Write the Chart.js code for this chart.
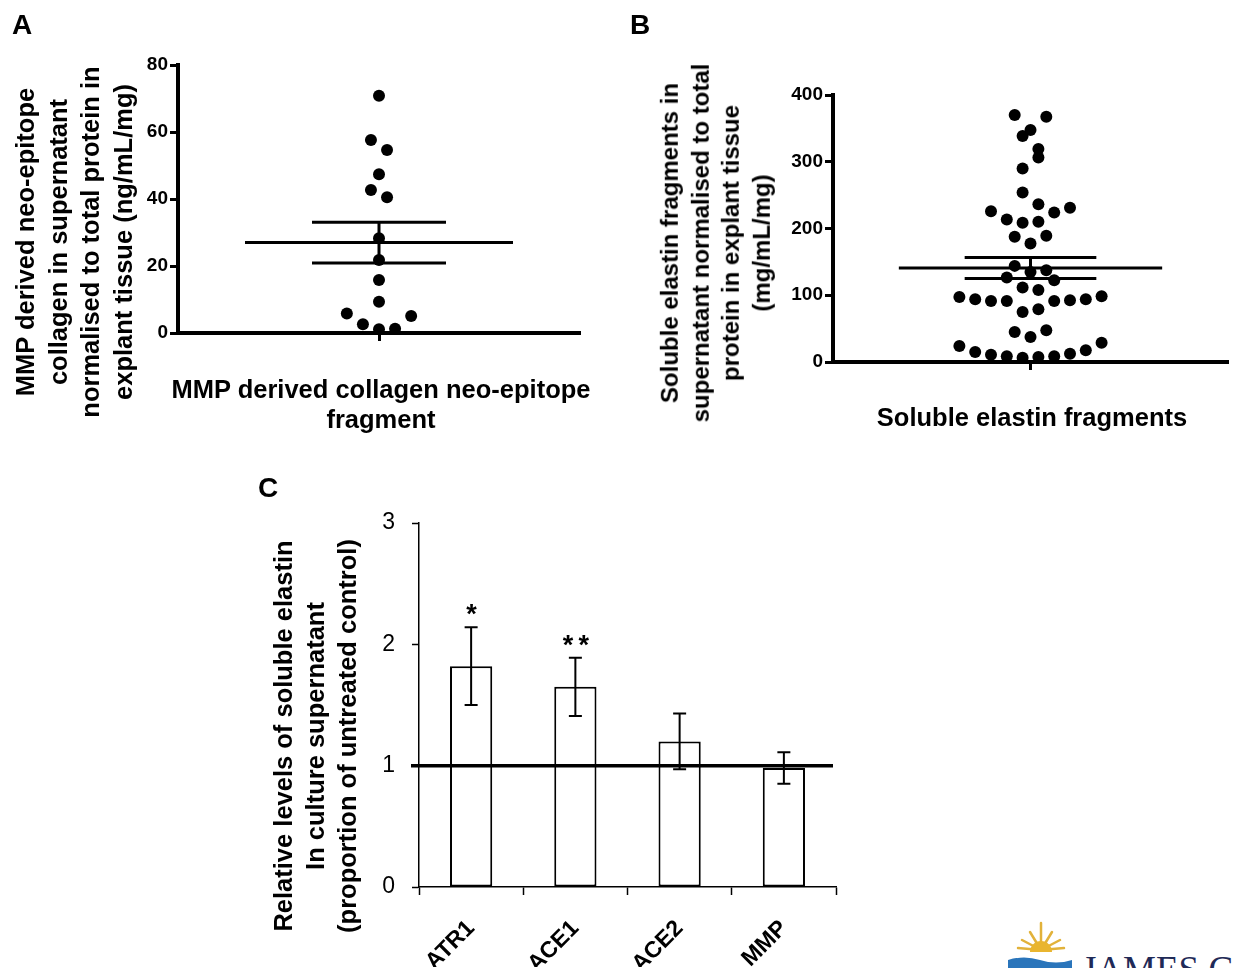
<!DOCTYPE html>
<html>
<head>
<meta charset="utf-8">
<script src="https://cdn.jsdelivr.net/npm/chart.js@4.4.1/dist/chart.umd.min.js"></script>
<style>
  html, body { margin: 0; padding: 0; background: #fff; }
  body { position: relative; width: 1234px; height: 968px; overflow: hidden; font-family: "Liberation Sans", Arial, sans-serif; color: #000; }
  canvas { position: absolute; }
  .lbl { position: absolute; font-weight: bold; white-space: nowrap; }
  .panel { font-size: 28px; line-height: 28px; }
  .vt { transform: translate(-50%, -50%) rotate(-90deg); text-align: center; }
  .ht { transform: translate(-50%, -50%); text-align: center; }
</style>
</head>
<body>

<canvas id="chartA" width="617" height="450" style="left:0;top:0"></canvas>
<canvas id="chartB" width="617" height="450" style="left:617px;top:0"></canvas>
<canvas id="chartC" width="620" height="508" style="left:250px;top:460px"></canvas>

<div class="lbl panel" style="left:12px;top:11px">A</div>
<div class="lbl panel" style="left:630px;top:11px">B</div>
<div class="lbl panel" style="left:258px;top:474px">C</div>

<div class="lbl vt" style="left:74px;top:242px;font-size:25.5px;line-height:32.7px">MMP derived neo-epitope<br>collagen in supernatant<br>normalised to total protein in<br>explant tissue (ng/mL/mg)</div>
<div class="lbl ht" style="left:381px;top:404px;font-size:25.5px;line-height:30px">MMP derived collagen neo-epitope<br>fragment</div>

<div class="lbl vt" style="left:716px;top:243px;font-size:24px;line-height:30.6px">Soluble elastin fragments  in<br>supernatant  normalised to total<br>protein in explant tissue<br>(mg/mL/mg)</div>
<div class="lbl ht" style="left:1032px;top:417px;font-size:25.5px;line-height:30px">Soluble elastin fragments</div>

<div class="lbl vt" style="left:315px;top:736px;font-size:25.5px;line-height:32px">Relative levels of soluble elastin<br>In culture supernatant<br>(proportion of untreated control)</div>

<svg style="position:absolute;left:1000px;top:910px" width="234" height="58">
  <g stroke="#e2b23a" stroke-width="2.5" stroke-linecap="round">
    <line x1="41" y1="40" x2="41" y2="13"/>
    <line x1="41" y1="40" x2="30" y2="22"/>
    <line x1="41" y1="40" x2="52" y2="22"/>
    <line x1="41" y1="40" x2="22" y2="30"/>
    <line x1="41" y1="40" x2="60" y2="30"/>
    <line x1="41" y1="40" x2="18" y2="38"/>
    <line x1="41" y1="40" x2="64" y2="38"/>
  </g>
  <path d="M30 42 A11 11 0 0 1 52 42 Z" fill="#e9b52f"/>
  <path d="M8 50 Q24 45 40 50 T72 50 L72 58 L8 58 Z" fill="#2a75bb"/>
  <text x="82" y="72" font-family="Liberation Serif, Times New Roman, serif" font-size="37" fill="#1f2a57">JAMES COOK</text>
</svg>

<script>
// Panel A: MMP derived collagen neo-epitope (ng/mL/mg), one value per explant
const collagenValues = [70.8, 57.6, 54.6, 47.4, 42.7, 40.5, 28.3, 21.8, 15.8, 9.3, 1.1, 2.6, 1.3, 5.8, 5.1];
const collagenTicks = [0, 20, 40, 60, 80];

// Panel B: soluble elastin fragments (mg/mL/mg), one value per explant
const elastinValues = [
  6.5, 7.5, 8.5, 8.5, 11, 12.5, 15, 17.5, 24, 29,
  37.5, 45, 47.5,
  75, 79, 91.5, 91.5, 91.5, 92.5, 94, 94, 97.5, 98.5,
  111.5, 108, 126.5, 122.5,
  135, 144, 137.5,
  177.5, 187.5, 189,
  208.5, 210, 213.5, 224, 226, 231,
  254, 236.5,
  290, 306.5,
  338.5, 319,
  347.5, 370, 367.5
];
const elastinTicks = [0, 100, 200, 300, 400];

// Panel C: relative soluble elastin (proportion of untreated control)
const genes = ['ATR1', 'ACE1', 'ACE2', 'MMP'];
const relLevels = [1.82, 1.65, 1.2, 0.98];
const relErrors = [0.32, 0.24, 0.23, 0.13];
const relStars = ['*', '**', '', ''];
const controlLevel = 1;

const FONT = '"Liberation Sans", Arial, sans-serif';
Chart.defaults.font.family = FONT;
Chart.defaults.color = '#000';

const rowFrac = 0.062;   // points closer than this (fraction of axis) share a row
const slotWidth = 0.08;  // horizontal spacing of points in a row (x units)

// Prism-like column scatter: rows from sorted values, spread centre-out
function swarm(values, yMin, yMax) {
  const gap = (yMax - yMin) * rowFrac;
  const order = values.map((v, i) => i).sort((a, b) => values[a] - values[b]);
  const rows = [];
  let row = null;
  order.forEach(i => {
    if (!row || values[i] - row.start > gap) {
      row = { start: values[i], idx: [] };
      rows.push(row);
    }
    row.idx.push(i);
  });
  const pts = [];
  rows.forEach(r => {
    r.idx.sort((a, b) => a - b);
    const n = r.idx.length;
    r.idx.forEach((i, k) => {
      let slot;
      if (n % 2) slot = k === 0 ? 0 : Math.ceil(k / 2) * (k % 2 ? -1 : 1);
      else slot = (Math.floor(k / 2) + 0.5) * (k % 2 ? 1 : -1);
      pts.push({ x: slot * slotWidth, y: values[i] });
    });
  });
  return pts;
}

function meanSem(values) {
  const n = values.length;
  const mean = values.reduce((a, b) => a + b, 0) / n;
  const sd = Math.sqrt(values.reduce((a, b) => a + (b - mean) * (b - mean), 0) / (n - 1));
  return { mean: mean, sem: sd / Math.sqrt(n) };
}

// mean line with SEM bars, drawn through the chart's own scales
function summaryPlugin(values) {
  const s = meanSem(values);
  return {
    id: 'summary',
    afterDatasetsDraw(chart) {
      const ctx = chart.ctx, x = chart.scales.x, y = chart.scales.y;
      const ym = y.getPixelForValue(s.mean);
      const yt = y.getPixelForValue(s.mean + s.sem);
      const yb = y.getPixelForValue(s.mean - s.sem);
      ctx.save();
      ctx.strokeStyle = '#000';
      ctx.lineWidth = 3;
      ctx.beginPath();
      ctx.moveTo(x.getPixelForValue(-2 / 3), ym);
      ctx.lineTo(x.getPixelForValue(2 / 3), ym);
      ctx.moveTo(x.getPixelForValue(-1 / 3), yt);
      ctx.lineTo(x.getPixelForValue(1 / 3), yt);
      ctx.moveTo(x.getPixelForValue(-1 / 3), yb);
      ctx.lineTo(x.getPixelForValue(1 / 3), yb);
      ctx.moveTo(x.getPixelForValue(0), yt);
      ctx.lineTo(x.getPixelForValue(0), yb);
      ctx.stroke();
      ctx.restore();
    }
  };
}

function scatterConfig(values, ticks, pad) {
  const yMin = ticks[0], yMax = ticks[ticks.length - 1];
  return {
    type: 'scatter',
    data: {
      datasets: [{
        data: swarm(values, yMin, yMax),
        pointRadius: 6,
        pointHoverRadius: 6,
        backgroundColor: '#000',
        borderWidth: 0,
        clip: false
      }]
    },
    options: {
      responsive: false,
      animation: false,
      devicePixelRatio: 1,
      events: [],
      layout: { padding: pad },
      plugins: { legend: { display: false }, tooltip: { enabled: false } },
      scales: {
        x: {
          type: 'linear', min: -1, max: 1,
          afterBuildTicks: s => { s.ticks = [{ value: 0 }]; },
          afterFit: s => { s.height = 20; },
          ticks: { callback: () => '' },
          grid: { drawOnChartArea: false, tickLength: 8, tickWidth: 3, color: '#000' },
          border: { width: 4, color: '#000' }
        },
        y: {
          min: yMin, max: yMax,
          afterBuildTicks: s => { s.ticks = ticks.map(v => ({ value: v })); },
          afterFit: s => { s.width = 60; },
          ticks: { padding: 2, color: '#000', font: { size: 19, weight: 'bold' } },
          grid: { drawOnChartArea: false, tickLength: 8, tickWidth: 3, color: '#000' },
          border: { width: 4, color: '#000' }
        }
      }
    },
    plugins: [summaryPlugin(values)]
  };
}

new Chart(document.getElementById('chartA'),
  scatterConfig(collagenValues, collagenTicks, { left: 118, top: 65, right: 37, bottom: 97 }));

new Chart(document.getElementById('chartB'),
  scatterConfig(elastinValues, elastinTicks, { left: 156, top: 95, right: 0, bottom: 68 }));

// error bars, control line and significance marks for panel C
const barExtras = {
  id: 'barExtras',
  afterDatasetsDraw(chart) {
    const ctx = chart.ctx, y = chart.scales.y, area = chart.chartArea;
    const bars = chart.getDatasetMeta(0).data;
    ctx.save();
    ctx.strokeStyle = '#000';
    ctx.fillStyle = '#000';
    ctx.lineWidth = 2;
    bars.forEach((bar, i) => {
      const yt = y.getPixelForValue(relLevels[i] + relErrors[i]);
      const yb = y.getPixelForValue(relLevels[i] - relErrors[i]);
      ctx.beginPath();
      ctx.moveTo(bar.x, yt); ctx.lineTo(bar.x, yb);
      ctx.moveTo(bar.x - 6.5, yt); ctx.lineTo(bar.x + 6.5, yt);
      ctx.moveTo(bar.x - 6.5, yb); ctx.lineTo(bar.x + 6.5, yb);
      ctx.stroke();
      if (relStars[i]) {
        ctx.font = 'bold 27px ' + FONT;
        ctx.textAlign = 'center';
        ctx.textBaseline = 'alphabetic';
        ctx.letterSpacing = '5px';
        ctx.fillText(relStars[i], bar.x + 3, yt - 4);
      }
    });
    const yc = y.getPixelForValue(controlLevel);
    ctx.lineWidth = 3.5;
    ctx.beginPath();
    ctx.moveTo(area.left - 8, yc);
    ctx.lineTo(area.right - 3, yc);
    ctx.stroke();
    ctx.restore();
  }
};

new Chart(document.getElementById('chartC'), {
  type: 'bar',
  data: {
    labels: genes,
    datasets: [{
      data: relLevels,
      backgroundColor: '#fff',
      borderColor: '#000',
      borderWidth: 2,
      borderSkipped: false,
      barPercentage: 0.405,
      categoryPercentage: 1
    }]
  },
  options: {
    responsive: false,
    animation: false,
    devicePixelRatio: 1,
    events: [],
    layout: { padding: { left: 99, top: 63, right: 34, bottom: 1 } },
    plugins: { legend: { display: false }, tooltip: { enabled: false } },
    scales: {
      x: {
        afterFit: s => { s.height = 80; },
        ticks: { minRotation: 45, maxRotation: 45, padding: 20, color: '#000', font: { size: 23, weight: 'bold' } },
        grid: { offset: true, drawOnChartArea: false, tickLength: 8, tickWidth: 1.5, color: '#000' },
        border: { width: 1.5, color: '#000' }
      },
      y: {
        min: 0, max: 3,
        afterFit: s => { s.width = 70; },
        ticks: { stepSize: 1, padding: 17, color: '#000', font: { size: 23 } },
        grid: { drawOnChartArea: false, tickLength: 7, tickWidth: 1.5, color: '#000' },
        border: { width: 1.5, color: '#000' }
      }
    }
  },
  plugins: [barExtras]
});
</script>
</body>
</html>
